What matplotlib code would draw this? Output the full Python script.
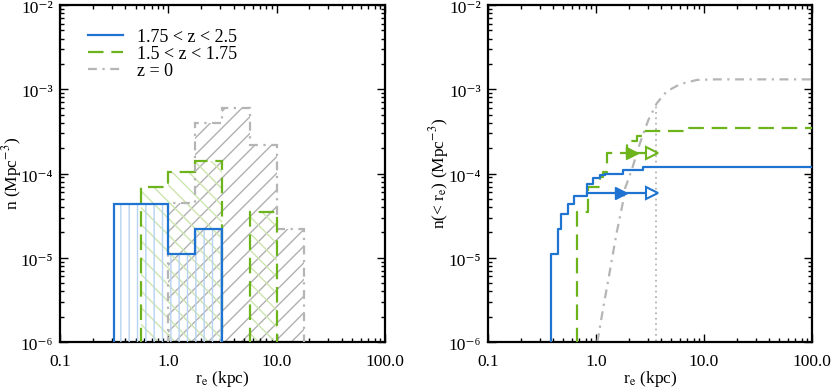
import numpy as np
import matplotlib
matplotlib.use('Agg')
import matplotlib.pyplot as plt
import matplotlib.transforms as mtransforms
from matplotlib.ticker import FixedLocator, FixedFormatter, LogLocator, NullFormatter

plt.rcParams['font.family'] = ['Liberation Serif', 'DejaVu Serif']
plt.rcParams['mathtext.fontset'] = 'stix'
plt.rcParams['hatch.linewidth'] = 1.0

# ---------------- data ----------------
labels = ['1.75 < z < 2.5', '1.5 < z < 1.75', 'z = 0']

bin_edges = [0.316, 0.562, 1.0, 1.78, 3.16, 5.62, 10.0, 17.8]
n_hiz = [4.4e-5, 4.4e-5, 1.1e-5, 2.2e-5, 0, 0, 0]
n_midz = [0, 7.0e-5, 1.05e-4, 1.4e-4, 0, 3.5e-5, 0]
n_z0 = [0, 0, 4.5e-5, 4.0e-4, 6.0e-4, 2.2e-4, 2.2e-5]

cum_hiz_x = [0.383, 0.442, 0.474, 0.547, 0.63, 0.83, 0.945, 1.09, 1.21, 1.79, 2.74, 100.0]
cum_hiz_y = [1.1e-5, 2.2e-5, 3.3e-5, 4.4e-5, 5.45e-5, 7.6e-5, 8.75e-5, 9.6e-5, 1.0e-4, 1.1e-4, 1.2e-4, 1.2e-4]

cum_midz_x = [0.67, 0.84, 1.08, 1.15, 1.26, 1.92, 2.38, 2.74, 7.3, 100.0]
cum_midz_y = [3.5e-5, 7.0e-5, 9.0e-5, 1.05e-4, 1.77e-4, 2.45e-4, 2.8e-4, 3.2e-4, 3.5e-4, 3.5e-4]

cum_z0_x = [1.03, 1.05, 1.17, 1.35, 1.55, 1.79, 1.86, 2.14, 2.55, 3.05, 3.65, 4.5, 6.0, 8.6, 13.1, 30.0, 100.0]
cum_z0_y = [1.0e-6, 1.16e-6, 2.6e-6, 7.2e-6, 1.95e-5, 4.8e-5, 6.7e-5, 1.1e-4, 2.28e-4, 4.3e-4,
            6.8e-4, 9.4e-4, 1.15e-3, 1.29e-3, 1.31e-3, 1.31e-3, 1.31e-3]

# arrow markers: (start, filled marker, open marker, level)
arrow_hiz = [0.83, 1.69, 3.3, 5.9e-5]
arrow_midz = [1.92, 2.14, 3.3, 1.74e-4]
z0_limit_x = 3.62
z0_limit_y = 6.5e-4

xticks = [0.1, 1.0, 10.0, 100.0]
xticklabels = ['0.1', '1.0', '10.0', '100.0']
yticks = [1e-6, 1e-5, 1e-4, 1e-3, 1e-2]
yticklabels = ['10\u207b\u2076', '10\u207b\u2075', '10\u207b\u2074', '10\u207b\u00b3', '10\u207b\u00b2']

# ---------------- styles ----------------
c_blue = '#1f74d2'
c_green = '#6cb31c'
c_gray = '#b5b5b5'
h_blue = '#b5d3f2'
h_green = '#cde5ae'
h_gray = '#b0b0b0'
ls_green = (0, (7, 3.5))
ls_gray = (0, (4, 2.5, 1, 2.5))
FS = 12.5

fig = plt.figure(figsize=(8.31, 3.89), dpi=100)
axL = fig.add_axes([60 / 831, 47 / 389, 325 / 831, 337 / 389])
axR = fig.add_axes([488 / 831, 47 / 389, 324 / 831, 337 / 389])

BASE = 1e-9


def runs(vals, edges):
    out, cur = [], []
    for i, v in enumerate(vals):
        if v > 0:
            cur.append(i)
        elif cur:
            out.append(cur)
            cur = []
    if cur:
        out.append(cur)
    return [([vals[i] for i in r], edges[r[0]:r[-1] + 2]) for r in out]


def draw_hist(ax, vals, hatch, hcol, lcol, ls, z):
    for v, e in runs(vals, bin_edges):
        ax.stairs(v, e, baseline=BASE, fill=True, facecolor='none', edgecolor=hcol,
                  hatch=hatch, linewidth=0, zorder=z)
    for v, e in runs(vals, bin_edges):
        ax.stairs(v, e, baseline=BASE, fill=False, color=lcol, linewidth=1.6,
                  linestyle=ls, zorder=z + 3)


draw_hist(axL, n_z0, '//', h_gray, c_gray, ls_gray, 1)
draw_hist(axL, n_midz, '\\\\', h_green, c_green, ls_green, 2)
draw_hist(axL, n_hiz, '||', h_blue, c_blue, '-', 3)

# legend handles
lh1, = axL.plot([], [], color=c_blue, lw=1.6, ls='-')
lh2, = axL.plot([], [], color=c_green, lw=1.6, ls=ls_green)
lh3, = axL.plot([], [], color=c_gray, lw=1.6, ls=ls_gray)
leg = axL.legend([lh1, lh2, lh3], labels, loc='upper left', bbox_to_anchor=(0.086, 0.93),
                 frameon=False, fontsize=13, handlelength=1.95, handletextpad=0.75,
                 labelspacing=0.0, borderpad=0, borderaxespad=0)

# right panel
axR.step([cum_hiz_x[0]] + cum_hiz_x, [BASE] + cum_hiz_y, where='post', color=c_blue, lw=1.6, zorder=4)
axR.step([cum_midz_x[0]] + cum_midz_x, [BASE] + cum_midz_y, where='post', color=c_green, lw=1.6,
         ls=ls_green, zorder=3)
axR.plot(cum_z0_x, cum_z0_y, color=c_gray, lw=1.6, ls=ls_gray, zorder=2)
axR.plot([z0_limit_x, z0_limit_x], [BASE, z0_limit_y], color=c_gray, lw=1.3, ls=(0, (1, 2)), zorder=2)

for arr, col in [(arrow_hiz, c_blue), (arrow_midz, c_green)]:
    s, f, o, lev = arr
    axR.plot([s, o], [lev, lev], color=col, lw=1.6, zorder=5)
    axR.plot([f], [lev], marker='>', ms=8, color=col, mec=col, zorder=6)
    axR.plot([o], [lev], marker='>', ms=8, mfc='white', mec=col, mew=1.5, zorder=6)

offset = mtransforms.ScaledTranslation(0, -2 / 100, fig.dpi_scale_trans)
for ax in (axL, axR):
    ax.set_xscale('log')
    ax.set_yscale('log')
    ax.set_xlim(0.1, 100)
    ax.set_ylim(1e-6, 1e-2)
    ax.xaxis.set_major_locator(FixedLocator(xticks))
    ax.xaxis.set_major_formatter(FixedFormatter(xticklabels))
    ax.xaxis.set_minor_locator(LogLocator(base=10, subs=np.arange(2, 10), numticks=20))
    ax.xaxis.set_minor_formatter(NullFormatter())
    ax.yaxis.set_major_locator(FixedLocator(yticks))
    ax.yaxis.set_major_formatter(FixedFormatter(yticklabels))
    ax.yaxis.set_minor_locator(LogLocator(base=10, subs=np.arange(2, 10), numticks=20))
    ax.yaxis.set_minor_formatter(NullFormatter())
    ax.tick_params(which='both', direction='in', top=True, right=True, labelsize=FS, width=1.0)
    ax.tick_params(which='major', length=6)
    ax.tick_params(axis='x', which='major', pad=9)
    ax.tick_params(axis='y', which='major', pad=5)
    ax.tick_params(which='minor', length=3)
    for sp in ax.spines.values():
        sp.set_linewidth(1.6)
    ax.set_xlabel(r'r$_{\rm e}$ (kpc)', fontsize=FS, labelpad=-1)
    for lab in ax.get_yticklabels():
        lab.set_transform(lab.get_transform() + offset)

axL.set_ylabel(r'n (Mpc$^{-3}$)', fontsize=FS)
axR.set_ylabel(r'n(< r$_{\rm e}$) (Mpc$^{-3}$)', fontsize=FS)
axL.yaxis.set_label_coords(-0.112, 0.5)
axR.yaxis.set_label_coords(-0.115, 0.5)

fig.savefig('out.png', dpi=100)
